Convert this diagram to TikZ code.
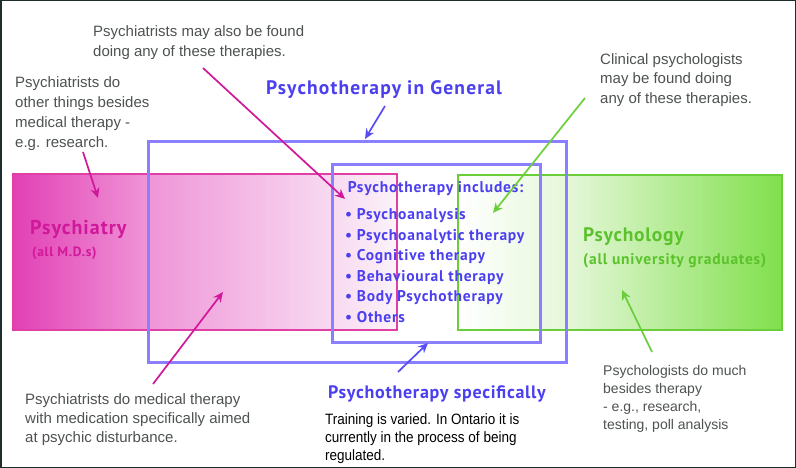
\documentclass[tikz,border=0pt]{standalone}
\usepackage{fontspec}
\setmainfont{Liberation Sans}
\newfontfamily\headfont{PT Sans}
\newfontfamily\narrowfont[FakeStretch=0.9]{Liberation Sans}
\usetikzlibrary{arrows.meta}
\definecolor{notegray}{HTML}{4E5252}
\definecolor{pkA}{HTML}{E240B4}
\definecolor{pkB}{HTML}{EF96D8}
\definecolor{pkC}{HTML}{FBF2F9}
\definecolor{pkline}{HTML}{E040A6}
\definecolor{pktext}{HTML}{D0189A}
\definecolor{gnB}{HTML}{E6F7DA}
\definecolor{gnC}{HTML}{80E04C}
\definecolor{gnline}{HTML}{6ACD3A}
\definecolor{gntext}{HTML}{5CC22C}
\definecolor{pubox}{HTML}{8A80FF}
\definecolor{putext}{HTML}{4B3FF0}
\definecolor{framec}{HTML}{1E2E2E}
\newcommand\hfont[2]{\headfont\bfseries\addfontfeature{LetterSpace=#2}\fontsize{#1}{#1}\selectfont}

\begin{document}
\begin{tikzpicture}[x=1pt,y=-1pt,
  note/.style = {anchor=north west, align=left, inner sep=0pt, text=notegray, font=\fontsize{15}{20}\selectfont},
  head/.style = {anchor=base, inner sep=0pt, text=putext},
  label/.style = {anchor=base west, inner sep=0pt},
  box/.style = {draw=pubox, line width=3pt},
  marrow/.style = {draw=pktext, line width=1.7pt, -{Stealth[length=10pt,width=9pt]}},
  garrow/.style = {draw=gnline, line width=1.7pt, -{Stealth[length=10pt,width=9pt]}},
  parrow/.style = {draw=putext!80!pubox, line width=1.7pt, -{Stealth[length=10pt,width=9pt]}}]
\useasboundingbox (0,0) rectangle (796,468);
\fill[white] (0,0) rectangle (796,468); \draw[framec, line width=1.5pt] (0.75,0.75) rectangle (795.25,467.25);
% the two fields
\shade[left color=pkA, right color=pkB] (13,174) rectangle (150,330); \shade[left color=pkB, right color=pkC] (150,174) rectangle (397,330);
\draw[pkline, line width=2pt] (13,174) rectangle (397,330);
\shade[left color=white, right color=gnB] (458,175) rectangle (566,330); \shade[left color=gnB, right color=gnC] (566,175) rectangle (782,330);
\draw[gnline, line width=2.5pt] (458,175) rectangle (782,330);
% psychotherapy boxes
\draw[box] (148,142) rectangle (566,362); \draw[box] (332,165) rectangle (540,342);
% labels
\node[head, font=\hfont{19.5}{6}] (0) at (384,95) {Psychotherapy in General}; \node[head, font=\hfont{18}{4}] (1) at (437,398) {Psychotherapy specifically};
\node[label, text=pktext, font=\hfont{20}{5}] (2) at (30,235) {Psychiatry};
\node[label, text=pktext, font=\hfont{13.5}{5}] (3) at (32,256) {(all M.D.s)};
\node[label, text=gntext, font=\hfont{19.5}{4}] (4) at (583,241) {Psychology};
\node[label, text=gntext, font=\hfont{15.5}{5}] (5) at (583,264) {(all university graduates)};
\node[anchor=north west, align=left, inner sep=0pt, text=putext, font={\hfont{15.5}{5}\baselineskip=20.5pt}] (6) at (345,181)
  {\,Psychotherapy includes:\\[7pt] • Psychoanalysis\\ • Psychoanalytic therapy\\ • Cognitive therapy\\ • Behavioural therapy\\ • Body Psychotherapy\\ • Others};
% notes
\node[note] (7) at (93,25) {Psychiatrists may also be found\\ doing any of these therapies.};
\node[note] (8) at (15,76) {Psychiatrists do\\ other things besides\\ medical therapy -\\ e.g. research.};
\node[note, font=\fontsize{15}{19.5}\selectfont] (9) at (600,53) {Clinical psychologists\\ may be found doing\\ any of these therapies.};
\node[note, font=\fontsize{15}{19}\selectfont] (10) at (25,393) {Psychiatrists do medical therapy\\ with medication specifically aimed\\ at psychic disturbance.};
\node[note, font=\fontsize{14}{18}\selectfont] (11) at (603,365) {Psychologists do much\\ besides therapy\\ - e.g., research,\\ testing, poll analysis};
\node[anchor=north west, align=left, inner sep=0pt, font=\narrowfont\fontsize{15}{18.3}\selectfont] (12) at (325,413) {Training is varied. In Ontario it is\\ currently in the process of being\\ regulated.};
% arrows
\coordinate (m1) at (203,68); \coordinate (m1e) at (345,199); \coordinate (m2) at (83,152); \coordinate (m2e) at (98,198);
\coordinate (m3) at (153,384); \coordinate (m3e) at (223,292); \coordinate (p1) at (385,106); \coordinate (p1e) at (365,139);
\coordinate (g1) at (585,98); \coordinate (g1e) at (493,213); \coordinate (g2) at (652,352); \coordinate (g2e) at (622,290);
\coordinate (p2) at (398,372); \coordinate (p2e) at (428,343);
\draw[marrow] (m1) -- (m1e); \draw[marrow] (m2) -- (m2e); \draw[marrow] (m3) -- (m3e);
\draw[garrow] (g1) -- (g1e); \draw[garrow] (g2) -- (g2e);
\draw[parrow] (p1) -- (p1e); \draw[parrow] (p2) -- (p2e);
\end{tikzpicture}
\end{document}
